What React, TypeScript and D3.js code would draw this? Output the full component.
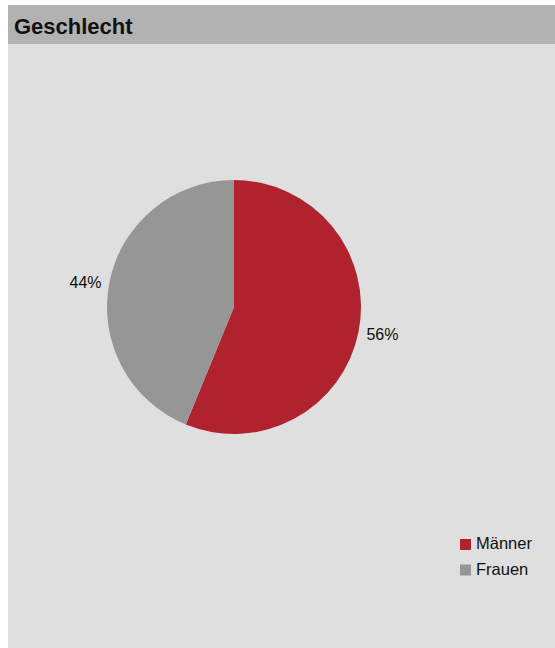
import React from "react";
import * as d3 from "d3";

const title = "Geschlecht";
const categories = ["Männer", "Frauen"];
const values = [56.2, 43.8];
const colors = ["#b0232e", "#969696"];

const W = 555;
const H = 648;

export default function App() {
  const cx = 234;
  const cy = 307;
  const r = 127;
  const pie = d3.pie<number>().sort(null).value((d) => d)(values);
  const arc = d3.arc<d3.PieArcDatum<number>>().innerRadius(0).outerRadius(r);
  const total = d3.sum(values);
  const font = "Arial, 'Liberation Sans', Helvetica, sans-serif";

  return (
    <svg
      width={W}
      height={H}
      style={{ position: "absolute", left: 0, top: 0 }}
      fontFamily={font}
    >
      <rect x={8} y={5} width={W - 8} height={H - 5} fill="#dfdfdf" />
      <rect x={8} y={5} width={W - 8} height={39} fill="#b2b2b2" />
      <text x={14} y={34} fontSize={22} fontWeight="bold" fill="#111">
        {title}
      </text>
      <g transform={`translate(${cx},${cy})`}>
        {pie.map((p, i) => (
          <path key={i} d={arc(p) || ""} fill={colors[i]} />
        ))}
        {pie.map((p, i) => {
          const mid = (p.startAngle + p.endAngle) / 2;
          const lr = r + 8;
          const x = Math.sin(mid) * lr;
          const y = -Math.cos(mid) * lr + 1.5;
          const anchor = x >= 0 ? "start" : "end";
          return (
            <text
              key={"l" + i}
              x={x}
              y={y}
              dy="0.35em"
              textAnchor={anchor}
              fontSize={16}
              fill="#111"
            >
              {Math.round((values[i] / total) * 100) + "%"}
            </text>
          );
        })}
      </g>
      <g transform="translate(460,539)">
        {categories.map((c, i) => (
          <g key={c} transform={`translate(0,${i * 25.5})`}>
            <rect width={11} height={11} fill={colors[i]} />
            <text x={16} y={4.5} dy="0.35em" fontSize={16.5} fill="#111">
              {c}
            </text>
          </g>
        ))}
      </g>
    </svg>
  );
}
